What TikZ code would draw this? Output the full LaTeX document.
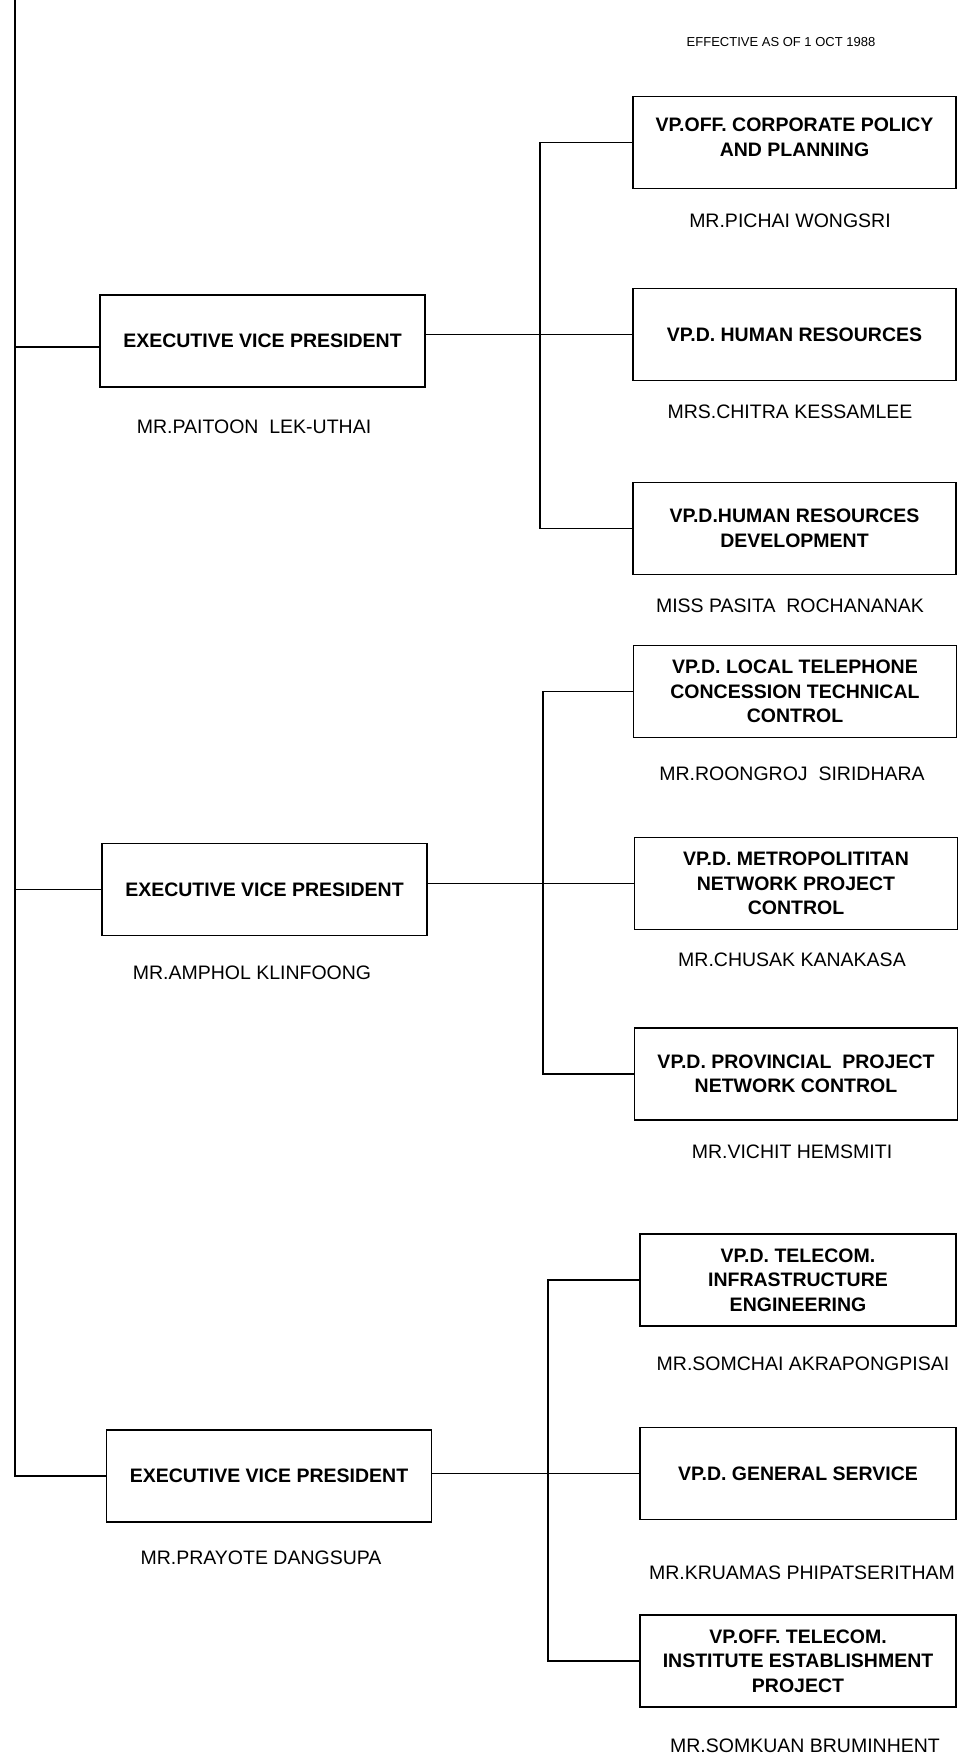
\documentclass[tikz,border=0pt]{standalone}
\usepackage{fontspec}
\setmainfont{Liberation Sans}
\begin{document}
\begin{tikzpicture}[x=1pt,y=-1pt,
  line width=1.6pt,
  post/.style={draw, rectangle, line width=1.6pt, minimum height=92pt, align=center,
    inner sep=0pt, font=\fontsize{19.5}{24.5}\selectfont\bfseries},
  evpbox/.style={post, minimum width=325pt},
  vpbox/.style={post, minimum width=323pt},
  vpboxb/.style={post, minimum width=316pt},
  holder/.style={inner sep=0pt, font=\fontsize{19.5}{24}\selectfont},
  link/.style={line width=1.6pt}]
\useasboundingbox (0,0) rectangle (960,1759);

% date line
\node[inner sep=0pt, font=\fontsize{13}{15}\selectfont] (date) at (781,42) {EFFECTIVE AS OF 1 OCT 1988};

% executive vice presidents
\node[evpbox] (evp1) at (262.5,341) {EXECUTIVE VICE PRESIDENT};
\node[holder] (n-evp1) at (254,427) {MR.PAITOON\ \ LEK-UTHAI};
\node[evpbox] (evp2) at (264.5,889.5) {EXECUTIVE VICE PRESIDENT};
\node[holder] (n-evp2) at (252,973) {MR.AMPHOL KLINFOONG};
\node[evpbox] (evp3) at (269,1476) {EXECUTIVE VICE PRESIDENT};
\node[holder] (n-evp3) at (261,1558) {MR.PRAYOTE DANGSUPA};

% first group
\node[vpbox] (r1) at (794.5,142.5) {VP.OFF. CORPORATE POLICY\\AND PLANNING\\[-21pt]\strut};
\node[holder] (n-r1) at (790,221) {MR.PICHAI WONGSRI};
\node[vpbox] (r2) at (794.5,334.5) {VP.D. HUMAN RESOURCES};
\node[holder] (n-r2) at (790,412) {MRS.CHITRA KESSAMLEE};
\node[vpbox] (r3) at (794.5,528.5) {VP.D.HUMAN RESOURCES\\DEVELOPMENT};
\node[holder] (n-r3) at (790,606) {MISS PASITA\ \ ROCHANANAK};

% second group
\node[vpbox] (r4) at (795,691.5) {VP.D. LOCAL TELEPHONE\\CONCESSION TECHNICAL\\CONTROL};
\node[holder] (n-r4) at (792,774) {MR.ROONGROJ\ \ SIRIDHARA};
\node[vpbox] (r5) at (796,883.5) {VP.D. METROPOLITITAN\\NETWORK PROJECT\\CONTROL};
\node[holder] (n-r5) at (792,960) {MR.CHUSAK KANAKASA};
\node[vpbox] (r6) at (796,1074) {VP.D. PROVINCIAL\ \ PROJECT\\NETWORK CONTROL};
\node[holder] (n-r6) at (792,1152) {MR.VICHIT HEMSMITI};

% third group
\node[vpboxb] (r7) at (798,1280) {VP.D. TELECOM.\\INFRASTRUCTURE\\ENGINEERING};
\node[holder] (n-r7) at (803,1364) {MR.SOMCHAI AKRAPONGPISAI};
\node[vpboxb] (r8) at (798,1473.5) {VP.D. GENERAL SERVICE};
\node[holder] (n-r8) at (802,1573) {MR.KRUAMAS PHIPATSERITHAM};
\node[vpboxb] (r9) at (798,1661) {VP.OFF. TELECOM.\\INSTITUTE ESTABLISHMENT\\PROJECT};
\node[holder] (n-r9) at (805,1746) {MR.SOMKUAN BRUMINHENT};

% left spine
\coordinate (top) at (15,0);
\coordinate (b1) at (540,0);
\coordinate (b2) at (543,0);
\coordinate (b3) at (548,0);
\coordinate (e1in) at ([yshift=-6pt]evp1.west);
\draw[link] (top) -- (top |- evp3.west) -- (evp3.west);
\draw[link] (top |- e1in) -- (e1in);
\draw[link] (top |- evp2.west) -- (evp2.west);

% buses to the vice presidents' offices
\draw[link] (r1.west) -- (r1.west -| b1) -- (r3.west -| b1) -- (r3.west);
\draw[link] (evp1.east |- r2.west) -- (r2.west);
\draw[link] (r4.west) -- (r4.west -| b2) -- (r6.west -| b2) -- (r6.west);
\draw[link] (evp2.east |- r5.west) -- (r5.west);
\draw[link] (r7.west) -- (r7.west -| b3) -- (r9.west -| b3) -- (r9.west);
\draw[link] (evp3.east |- r8.west) -- (r8.west);
\end{tikzpicture}
\end{document}
